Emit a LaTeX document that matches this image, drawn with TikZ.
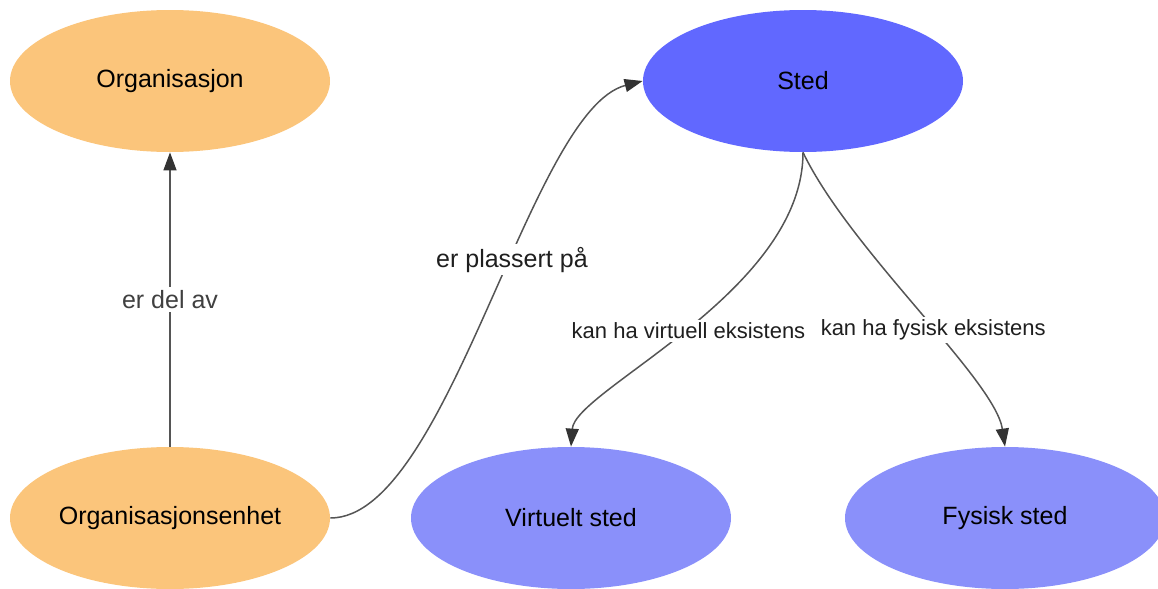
\documentclass[tikz,border=0pt]{standalone}
\usepackage{fontspec}
\setmainfont{Liberation Sans}
\usetikzlibrary{shapes.geometric,arrows.meta}

\definecolor{orgfill}{HTML}{FBC57B}
\definecolor{stedfill}{HTML}{6168FF}
\definecolor{stedlight}{HTML}{8A90FA}
\definecolor{linegray}{HTML}{555555}
\definecolor{tipgray}{HTML}{333333}

\begin{document}
\begin{tikzpicture}[x=0.5pt,y=-0.5pt,
  blob/.style={ellipse,minimum width=160pt,minimum height=71pt,inner sep=0pt,
    font=\fontsize{12.5}{15}\selectfont,text=black},
  rel/.style={draw=linegray,line width=0.75pt,
    -{Triangle[length=9pt,width=6.5pt,color=tipgray]}},
  lbl/.style={fill=white,inner sep=1.5pt,text=black!88,
    font=\fontsize{11}{13}\selectfont}]

\useasboundingbox (0,0) rectangle (1158,589);

\node[blob,fill=orgfill] (Org) at (170,81) {Organisasjon};
\node[blob,fill=orgfill] (Enhet) at (170,518) {Organisasjonsenhet};
\node[blob,fill=stedfill] (Sted) at (803,81) {Sted};
\node[blob,fill=stedlight] (Virt) at (571,518) {Virtuelt sted};
\node[blob,fill=stedlight] (Fys) at (1005,518) {Fysisk sted};

\draw[rel] (Enhet) -- node[lbl,text=black!75,font=\fontsize{12.5}{15}\selectfont] {er del av} (Org);

\draw[rel] (Enhet.east) .. controls +(118,0) and +(-113,29) ..
  node[lbl,pos=0.58,font=\fontsize{12.5}{15}\selectfont] {er plassert på} (Sted.west);

\draw[rel] (Sted.south) .. controls +(0,140) and +(4,-57) ..
  node[lbl,pos=0.5] {kan ha virtuell eksistens} (Virt.north);

\draw[rel] (Sted.south) .. controls +(47,98) and +(-10,-67) ..
  node[lbl,pos=0.56] {kan ha fysisk eksistens} (Fys.north);

\end{tikzpicture}
\end{document}
